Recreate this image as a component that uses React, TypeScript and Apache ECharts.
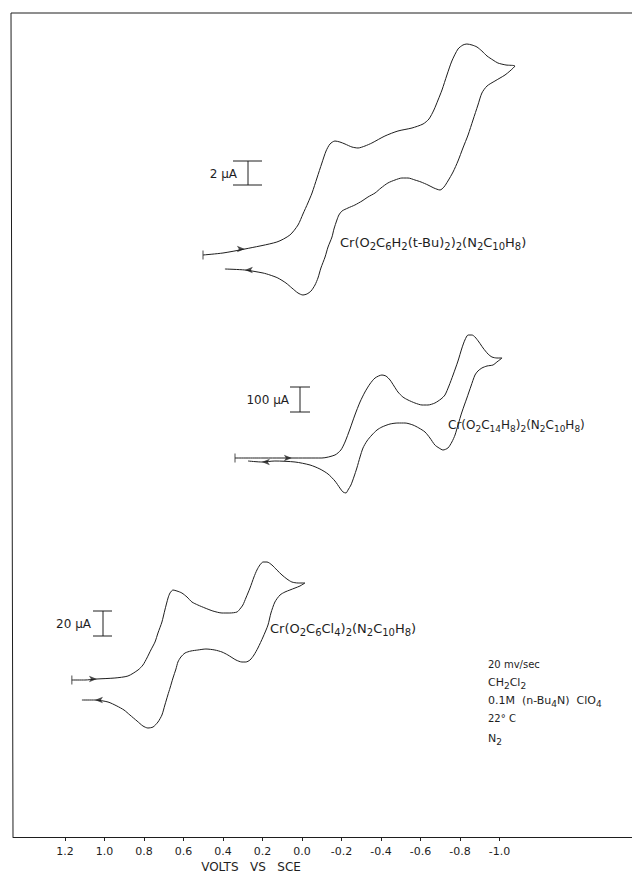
import React, { useEffect, useRef } from "react";
import * as echarts from "echarts";

// Potential axis (volts vs SCE), drawn high-to-low
const X_TICKS = [1.2, 1.0, 0.8, 0.6, 0.4, 0.2, 0.0, -0.2, -0.4, -0.6, -0.8, -1.0];
const X_TICK_LABELS = ["1.2", "1.0", "0.8", "0.6", "0.4", "0.2", "0.0", "-0.2", "-0.4", "-0.6", "-0.8", "-1.0"];
const X_MIN = -1.671;
const X_MAX = 1.463;
const Y_MAX = 837; // vertical offset units (trace height above the axis)

// Trace 1: Cr(O2C6H2(t-Bu)2)2(N2C10H8)  [V, offset]
const cv1Forward = [
  [0.501, 582], [0.4, 584], [0.289, 588], [0.127, 595], [0.061, 602], [0.02, 612], [-0.005, 623],
  [-0.03, 634], [-0.051, 644], [-0.076, 659], [-0.101, 674], [-0.122, 686], [-0.142, 693], [-0.167, 696],
  [-0.192, 695], [-0.218, 693], [-0.253, 690], [-0.284, 689], [-0.319, 691], [-0.354, 694], [-0.42, 701],
  [-0.486, 706], [-0.557, 709], [-0.613, 713], [-0.643, 718], [-0.668, 727], [-0.689, 737], [-0.709, 747],
  [-0.734, 762], [-0.759, 776], [-0.79, 788], [-0.815, 792], [-0.835, 793], [-0.861, 792], [-0.886, 790],
  [-0.911, 786], [-0.937, 781], [-0.967, 777], [-0.992, 774], [-1.033, 772], [-1.078, 771],
];
const cv1Reverse = [
  [-1.053, 766], [-1.028, 762], [-0.977, 756], [-0.937, 751], [-0.911, 744], [-0.891, 732], [-0.866, 717],
  [-0.841, 702], [-0.815, 689], [-0.79, 676], [-0.765, 665], [-0.739, 656], [-0.719, 650], [-0.699, 647],
  [-0.668, 649], [-0.638, 652], [-0.603, 655], [-0.572, 657], [-0.537, 659], [-0.506, 659], [-0.471, 657],
  [-0.435, 654], [-0.4, 649], [-0.37, 644], [-0.334, 640], [-0.304, 636], [-0.268, 632], [-0.233, 629],
  [-0.203, 626], [-0.187, 622], [-0.177, 617], [-0.162, 608], [-0.152, 600], [-0.132, 590], [-0.117, 580],
  [-0.096, 569], [-0.081, 559], [-0.066, 552], [-0.046, 546], [-0.025, 543], [-0.005, 542], [0.02, 544],
  [0.051, 549], [0.081, 554], [0.122, 559], [0.162, 562], [0.197, 564], [0.289, 567], [0.39, 568],
];

// Trace 2: Cr(O2C14H8)2(N2C10H8)
const cv2Forward = [
  [0.339, 379], [0.203, 379], [0.051, 379], [-0.101, 379], [-0.167, 382], [-0.197, 387], [-0.218, 395],
  [-0.243, 408], [-0.268, 422], [-0.294, 435], [-0.319, 445], [-0.344, 453], [-0.37, 459], [-0.405, 462],
  [-0.425, 461], [-0.446, 457], [-0.466, 451], [-0.486, 445], [-0.511, 440], [-0.537, 437], [-0.572, 434],
  [-0.608, 432], [-0.638, 432], [-0.673, 434], [-0.704, 438], [-0.724, 442], [-0.744, 451], [-0.765, 462],
  [-0.79, 476], [-0.81, 489], [-0.825, 497], [-0.841, 502], [-0.861, 502], [-0.876, 500], [-0.896, 495],
  [-0.917, 489], [-0.942, 483], [-0.962, 480], [-0.987, 479], [-1.013, 479],
];
const cv2Reverse = [
  [-0.987, 475], [-0.967, 472], [-0.937, 471], [-0.911, 469], [-0.891, 466], [-0.876, 462], [-0.856, 451],
  [-0.835, 439], [-0.81, 425], [-0.79, 412], [-0.775, 402], [-0.759, 395], [-0.739, 389], [-0.714, 387],
  [-0.694, 389], [-0.673, 392], [-0.648, 399], [-0.623, 405], [-0.592, 409], [-0.562, 412], [-0.522, 414],
  [-0.486, 414], [-0.446, 413], [-0.405, 410], [-0.38, 407], [-0.354, 402], [-0.329, 396], [-0.309, 389],
  [-0.294, 380], [-0.278, 369], [-0.263, 360], [-0.248, 352], [-0.233, 347], [-0.223, 344], [-0.208, 345],
  [-0.192, 349], [-0.167, 356], [-0.132, 363], [-0.091, 368], [-0.041, 372], [0.035, 375], [0.137, 376],
  [0.203, 375], [0.273, 376],
];

// Trace 3: Cr(O2C6Cl4)2(N2C10H8)
const cv3Forward = [
  [1.165, 157], [1.099, 157], [1.038, 158], [0.947, 159], [0.881, 161], [0.83, 167], [0.805, 172],
  [0.785, 179], [0.765, 187], [0.744, 195], [0.729, 204], [0.709, 215], [0.694, 227], [0.678, 239],
  [0.668, 244], [0.653, 247], [0.633, 246], [0.608, 244], [0.582, 240], [0.557, 235], [0.527, 232],
  [0.491, 229], [0.451, 226], [0.405, 224], [0.365, 224], [0.329, 225], [0.314, 228], [0.299, 232],
  [0.284, 239], [0.263, 249], [0.243, 260], [0.228, 267], [0.213, 272], [0.197, 275], [0.177, 275],
  [0.152, 272], [0.127, 267], [0.101, 262], [0.076, 258], [0.051, 255], [0.02, 254], [-0.015, 254],
];
const cv3Reverse = [
  [0.01, 251], [0.035, 249], [0.061, 247], [0.086, 245], [0.111, 242], [0.137, 235], [0.157, 224],
  [0.172, 212], [0.197, 200], [0.223, 189], [0.243, 182], [0.263, 177], [0.284, 175], [0.304, 175],
  [0.334, 177], [0.375, 182], [0.405, 185], [0.441, 187], [0.486, 188], [0.527, 187], [0.562, 186],
  [0.592, 184], [0.613, 180], [0.628, 175], [0.638, 168], [0.653, 159], [0.668, 149], [0.679, 142],
  [0.694, 132], [0.709, 122], [0.729, 115], [0.754, 110], [0.78, 109], [0.805, 111], [0.835, 116],
  [0.871, 122], [0.901, 127], [0.937, 131], [0.982, 135], [1.048, 137], [1.114, 137],
];

const INK = "#1e1e1e";
const FONT = "DejaVu Sans";

export default function App() {
  const ref = useRef<HTMLDivElement>(null);

  useEffect(() => {
    if (!ref.current) return;
    const chart = echarts.init(ref.current, undefined, { renderer: "svg" });

    const startMarks = [cv1Forward[0], cv2Forward[0], cv3Forward[0]];
    const arrowsRight = [cv1Forward[2], cv2Forward[2], cv3Forward[2]];
    const arrowsLeft = [
      cv1Reverse[cv1Reverse.length - 2],
      cv2Reverse[cv2Reverse.length - 2],
      cv3Reverse[cv3Reverse.length - 2],
    ];

    const lineSeries = (name: string, data: number[][]) => ({
      name,
      type: "line",
      data,
      smooth: 0.25,
      showSymbol: false,
      symbol: "none",
      lineStyle: { color: INK, width: 1 },
      silent: true,
    });

    const txt = (x: number, y: number, text: string, size = 11, align = "left") => ({
      type: "text",
      x,
      y,
      style: {
        text,
        fill: INK,
        fontSize: size,
        fontFamily: FONT,
        align,
        verticalAlign: "middle",
        rich: {
          s: { fontSize: Math.round(size * 0.78), fontFamily: FONT, fill: INK, padding: [Math.round(size * 0.6), 0, 0, 0] },
          n: { fontSize: size, fontFamily: FONT, fill: INK },
        },
      },
    });
    const ln = (x1: number, y1: number, x2: number, y2: number) => ({
      type: "line",
      shape: { x1, y1, x2, y2 },
      style: { stroke: INK, lineWidth: 1 },
    });

    chart.setOption({
      animation: false,
      backgroundColor: "#ffffff",
      grid: { left: 13, right: 0, top: 0, bottom: 39 },
      xAxis: {
        type: "value",
        inverse: true,
        min: X_MIN,
        max: X_MAX,
        axisLine: { show: true, onZero: false, lineStyle: { color: INK, width: 1 } },
        axisTick: { show: true, customValues: X_TICKS, length: 4, lineStyle: { color: INK } },
        axisLabel: {
          show: true,
          customValues: X_TICKS,
          color: INK,
          fontSize: 11,
          fontFamily: FONT,
          margin: 9,
          formatter: (v: number) => {
            const i = X_TICKS.findIndex((t) => Math.abs(t - v) < 1e-6);
            return i >= 0 ? X_TICK_LABELS[i] : "";
          },
        },
        splitLine: { show: false },
      },
      yAxis: { type: "value", min: 0, max: Y_MAX, show: false },
      series: [
        lineSeries("cv1", [...cv1Forward, ...cv1Reverse]),
        lineSeries("cv2", [...cv2Forward, ...cv2Reverse]),
        lineSeries("cv3", [...cv3Forward, ...cv3Reverse]),
        {
          type: "scatter",
          data: startMarks,
          symbol: "rect",
          symbolSize: [1, 9],
          itemStyle: { color: INK },
          silent: true,
        },
        {
          type: "scatter",
          data: arrowsRight,
          symbol: "arrow",
          symbolSize: [5, 8],
          symbolRotate: -90,
          itemStyle: { color: INK },
          silent: true,
        },
        {
          type: "scatter",
          data: arrowsLeft,
          symbol: "arrow",
          symbolSize: [5, 8],
          symbolRotate: 90,
          itemStyle: { color: INK },
          silent: true,
        },
      ],
      graphic: [
        // frame
        ln(11, 13, 632, 13),
        ln(11, 13, 13, 837),
        // scale bars
        ln(233, 161, 262, 161), ln(233, 185, 262, 185), ln(248, 161, 248, 185),
        ln(290, 387, 310, 387), ln(290, 412, 310, 412), ln(300, 387, 300, 412),
        ln(93, 611, 112, 611), ln(93, 636, 112, 636), ln(103, 611, 103, 636),
        txt(237, 174, "2 µA", 12, "right"),
        txt(289, 400, "100 µA", 12, "right"),
        txt(91, 624, "20 µA", 12, "right"),
        // compound labels
        txt(340, 242, "{n|Cr(O}{s|2}{n|C}{s|6}{n|H}{s|2}{n|(t-Bu)}{s|2}{n|)}{s|2}{n|(N}{s|2}{n|C}{s|10}{n|H}{s|8}{n|)}", 13),
        txt(448, 425, "{n|Cr(O}{s|2}{n|C}{s|14}{n|H}{s|8}{n|)}{s|2}{n|(N}{s|2}{n|C}{s|10}{n|H}{s|8}{n|)}", 12),
        txt(270, 628, "{n|Cr(O}{s|2}{n|C}{s|6}{n|Cl}{s|4}{n|)}{s|2}{n|(N}{s|2}{n|C}{s|10}{n|H}{s|8}{n|)}", 13),
        // conditions
        txt(488, 664, "20 mv/sec", 10),
        txt(488, 682, "{n|CH}{s|2}{n|Cl}{s|2}", 11),
        txt(488, 700, "{n|0.1M  (n-Bu}{s|4}{n|N)  ClO}{s|4}", 11),
        txt(488, 718, "22° C", 10),
        txt(488, 738, "{n|N}{s|2}", 11),
        // axis title
        {
          type: "text",
          x: 251,
          y: 867,
          style: {
            text: "VOLTS   VS   SCE",
            fill: INK,
            fontSize: 12,
            fontFamily: FONT,
            align: "center",
            verticalAlign: "middle",
          },
        },
      ],
    });

    return () => chart.dispose();
  }, []);

  return (
    <div
      ref={ref}
      style={{ position: "fixed", left: 0, top: 0, width: 632, height: 876, background: "#fff" }}
    />
  );
}
